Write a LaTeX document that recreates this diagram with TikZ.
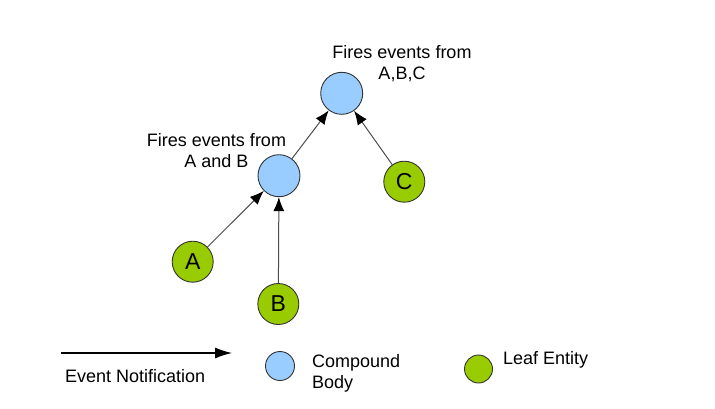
\documentclass[tikz,border=0pt]{standalone}
\usepackage{fontspec}
\setmainfont{Liberation Sans}
\usetikzlibrary{arrows.meta}
\definecolor{cbody}{HTML}{99CCFF}
\definecolor{cleaf}{HTML}{99CC00}
\definecolor{cedge}{HTML}{333333}
\tikzset{
  compound/.style={circle, draw=cedge, line width=0.9pt, fill=cbody, minimum size=42pt, inner sep=0pt},
  leaf/.style={circle, draw=cedge, line width=0.9pt, fill=cleaf, minimum size=41pt, inner sep=0pt, font=\fontsize{23}{25}\selectfont},
  lcompound/.style={circle, draw=cedge, line width=0.9pt, fill=cbody, minimum width=27.5pt, minimum height=29pt, inner sep=0pt},
  lleaf/.style={circle, draw=cedge, line width=0.9pt, fill=cleaf, minimum size=28pt, inner sep=0pt},
  lbl/.style={font=\fontsize{18}{20.5}\selectfont, inner sep=0pt, align=center},
  edge/.style={draw=black!70, line width=1pt, -{Latex[length=14pt,width=11pt,black]}},
  legarrow/.style={draw=black, line width=1.2pt, -{Latex[length=17pt,width=11pt]}}
}
\begin{document}
\begin{tikzpicture}[x=1pt,y=-1pt]
\useasboundingbox (0,0) rectangle (715,408);
\node[compound] (top) at (341.7,93.3) {};
\node[compound] (mid) at (279,175.7) {};
\node[leaf] (C) at (404.3,181.7) {C};
\node[leaf] (A) at (192.7,261.7) {A};
\node[leaf] (B) at (278.3,304) {B};
\node[lbl, anchor=base] (ltop) at (402,79) {Fires events from\\A,B,C};
\node[lbl, anchor=base] (lmid) at (216.5,167) {Fires events from\\A and B};
\draw[edge] (mid) -- (top);
\draw[edge] (C) -- (top);
\draw[edge] (A) -- (mid);
\draw[edge] (B) -- (mid);
% legend
\coordinate (la) at (61,353);
\coordinate (lb) at (232,353);
\draw[legarrow] (la) -- (lb);
\node[lbl, anchor=base west] (levent) at (65,382) {Event Notification};
\node[lcompound] (lc) at (280,366) {};
\node[lbl, anchor=base west, align=left] (lctext) at (312,388) {Compound\\Body};
\node[lleaf] (ll) at (478.5,369) {};
\node[lbl, anchor=base west] (lltext) at (503,364) {Leaf Entity};
\end{tikzpicture}
\end{document}
